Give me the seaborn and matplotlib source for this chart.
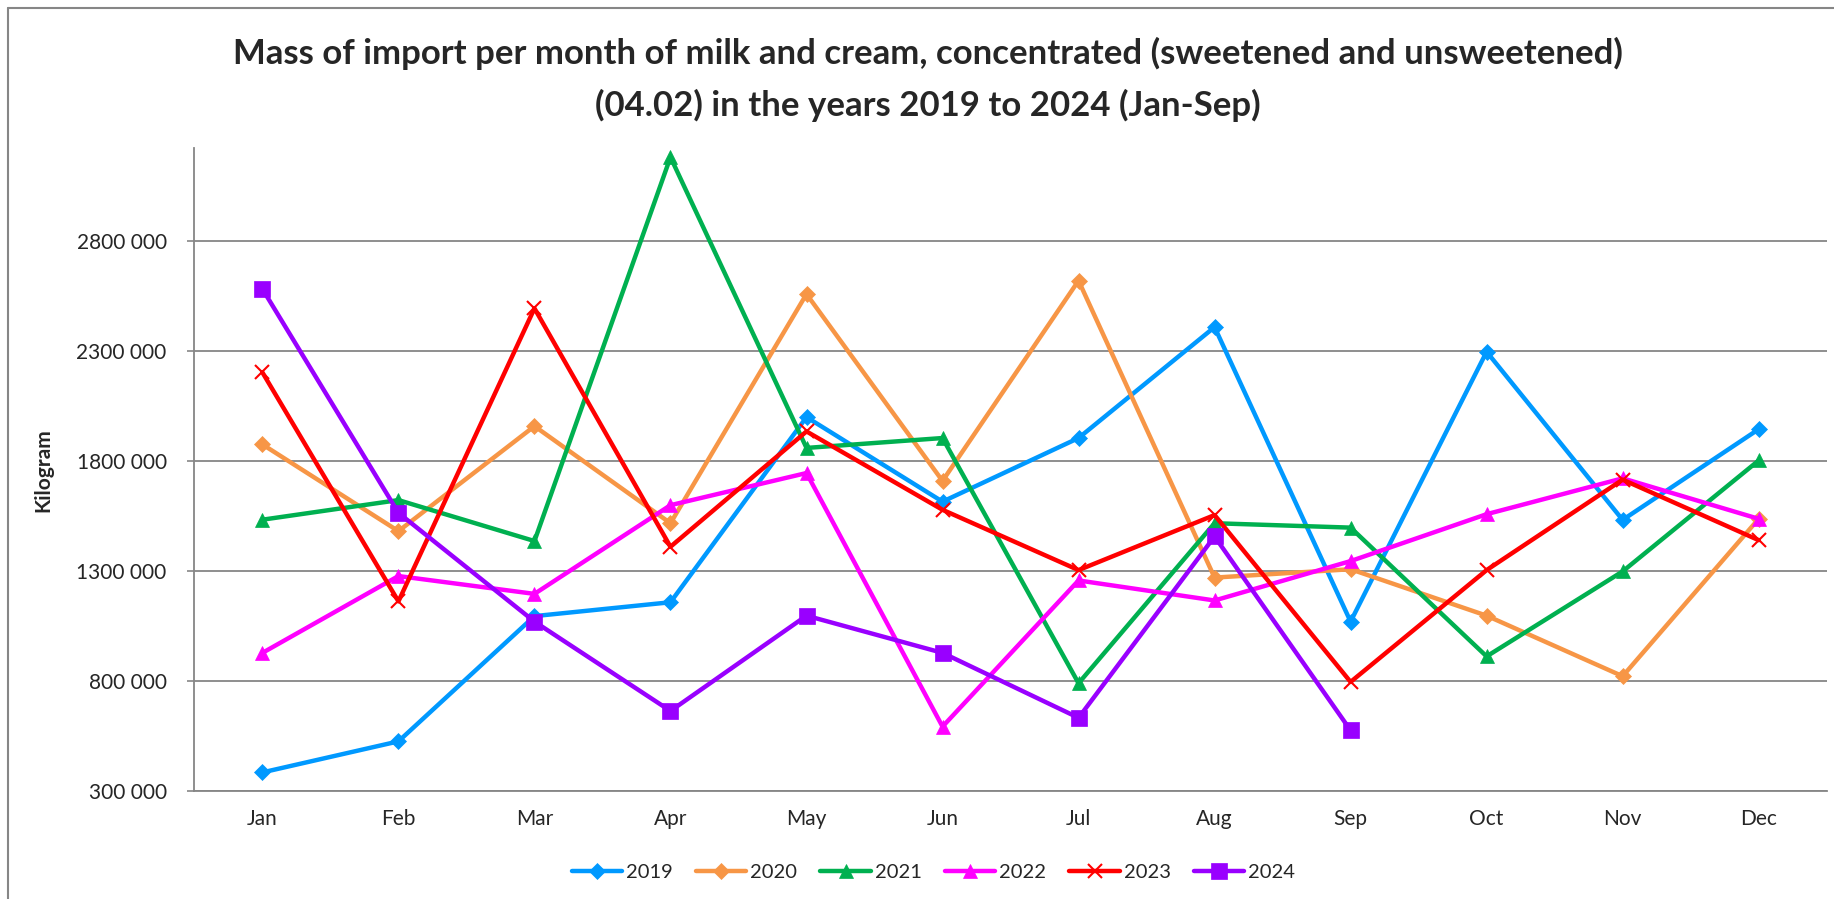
import matplotlib
matplotlib.use('Agg')
import matplotlib.pyplot as plt
import matplotlib.lines as mlines
import seaborn as sns
import pandas as pd

# Dados (kg)
months = ["Jan", "Feb", "Mar", "Apr", "May", "Jun", "Jul", "Aug", "Sep", "Oct", "Nov", "Dec"]
y2019 = [385000, 526000, 1095000, 1158000, 1999000, 1615000, 1904000, 2408000, 1070000, 2296000, 1532000, 1944000]
y2020 = [1875000, 1481000, 1958000, 1517000, 2558000, 1709000, 2619000, 1270000, 1308000, 1097000, 822000, 1537000]
y2021 = [1533000, 1622000, 1436000, 3180000, 1859000, 1904000, 790000, 1517000, 1497000, 912000, 1298000, 1802000]
y2022 = [928000, 1277000, 1196000, 1599000, 1745000, 593000, 1257000, 1166000, 1345000, 1558000, 1721000, 1537000]
y2023 = [2202000, 1162000, 2493000, 1410000, 1934000, 1578000, 1304000, 1554000, 796000, 1304000, 1715000, 1440000]
y2024 = [2581000, 1564000, 1070000, 664000, 1097000, 928000, 633000, 1457000, 576000]
years = ["2019", "2020", "2021", "2022", "2023", "2024"]
series = [y2019, y2020, y2021, y2022, y2023, y2024]
yticks = [300000, 800000, 1300000, 1800000, 2300000, 2800000]

colors = ["#0099FF", "#F79646", "#00B050", "#FF00FF", "#FF0000", "#9900FF"]
markers = ["D", "D", "^", "^", "x", "s"]
msizes = [8, 8, 10, 10, 10, 12]

sns.set_theme(style="white")
plt.rcParams['font.family'] = ['Lato', 'DejaVu Sans']

fig = plt.figure(figsize=(18.34, 8.99), dpi=100)
ax = fig.add_axes([0.106, 0.120, 0.890, 0.715])

for year, vals, c, m, ms in zip(years, series, colors, markers, msizes):
    df = pd.DataFrame({"month": months[:len(vals)], "kg": vals})
    sns.lineplot(data=df, x="month", y="kg", ax=ax, sort=False, color=c,
                 linewidth=3.2, marker=m, markersize=ms, markeredgecolor=c,
                 markeredgewidth=1.5 if m == "x" else 0.5, label=year)

ax.set_xlim(-0.5, 11.5)
ax.set_ylim(300000, 3220000)
ax.set_yticks(yticks)
ax.set_yticklabels([f"{v // 1000} {v % 1000:03d}" for v in yticks], fontsize=15)
ax.set_xticks(range(12))
ax.set_xticklabels(months, fontsize=15)
ax.set_xticks([i - 0.5 for i in range(13)], minor=True)
ax.tick_params(axis="x", which="major", length=0, pad=13)
ax.tick_params(axis="x", which="minor", length=5, width=1.2, color="#868686", direction="out")
ax.tick_params(axis="y", length=5, width=1.2, color="#868686", direction="out", left=True, pad=15)
ax.grid(axis="y", color="#868686", linewidth=1.3)
ax.set_axisbelow(True)
for s in ["top", "right"]:
    ax.spines[s].set_visible(False)
for s in ["left", "bottom"]:
    ax.spines[s].set_color("#868686")
    ax.spines[s].set_linewidth(1.3)
ax.set_xlabel("")
ax.set_ylabel("Kilogram", fontsize=15, fontweight="bold")
ax.yaxis.set_label_coords(-0.0863, 0.5)

fig.text(0.506, 0.941, "Mass of import per month of milk and cream, concentrated (sweetened and unsweetened)",
         ha="center", va="center", fontsize=25, fontweight="bold")
fig.text(0.506, 0.883, "(04.02) in the years 2019 to 2024 (Jan-Sep)",
         ha="center", va="center", fontsize=25, fontweight="bold")

ax.legend(loc="center", bbox_to_anchor=(0.509, 0.030), bbox_transform=fig.transFigure,
          ncol=6, frameon=False, fontsize=14.5, handlelength=2.5, columnspacing=1.15,
          handletextpad=0.2)

# moldura externa do gráfico
fig.add_artist(mlines.Line2D([0.0045, 0.0045], [0.0, 0.991], color="#868686", linewidth=1.5))
fig.add_artist(mlines.Line2D([0.0045, 1.0], [0.991, 0.991], color="#868686", linewidth=1.5))

plt.savefig("out.png", dpi=100)
plt.close()
